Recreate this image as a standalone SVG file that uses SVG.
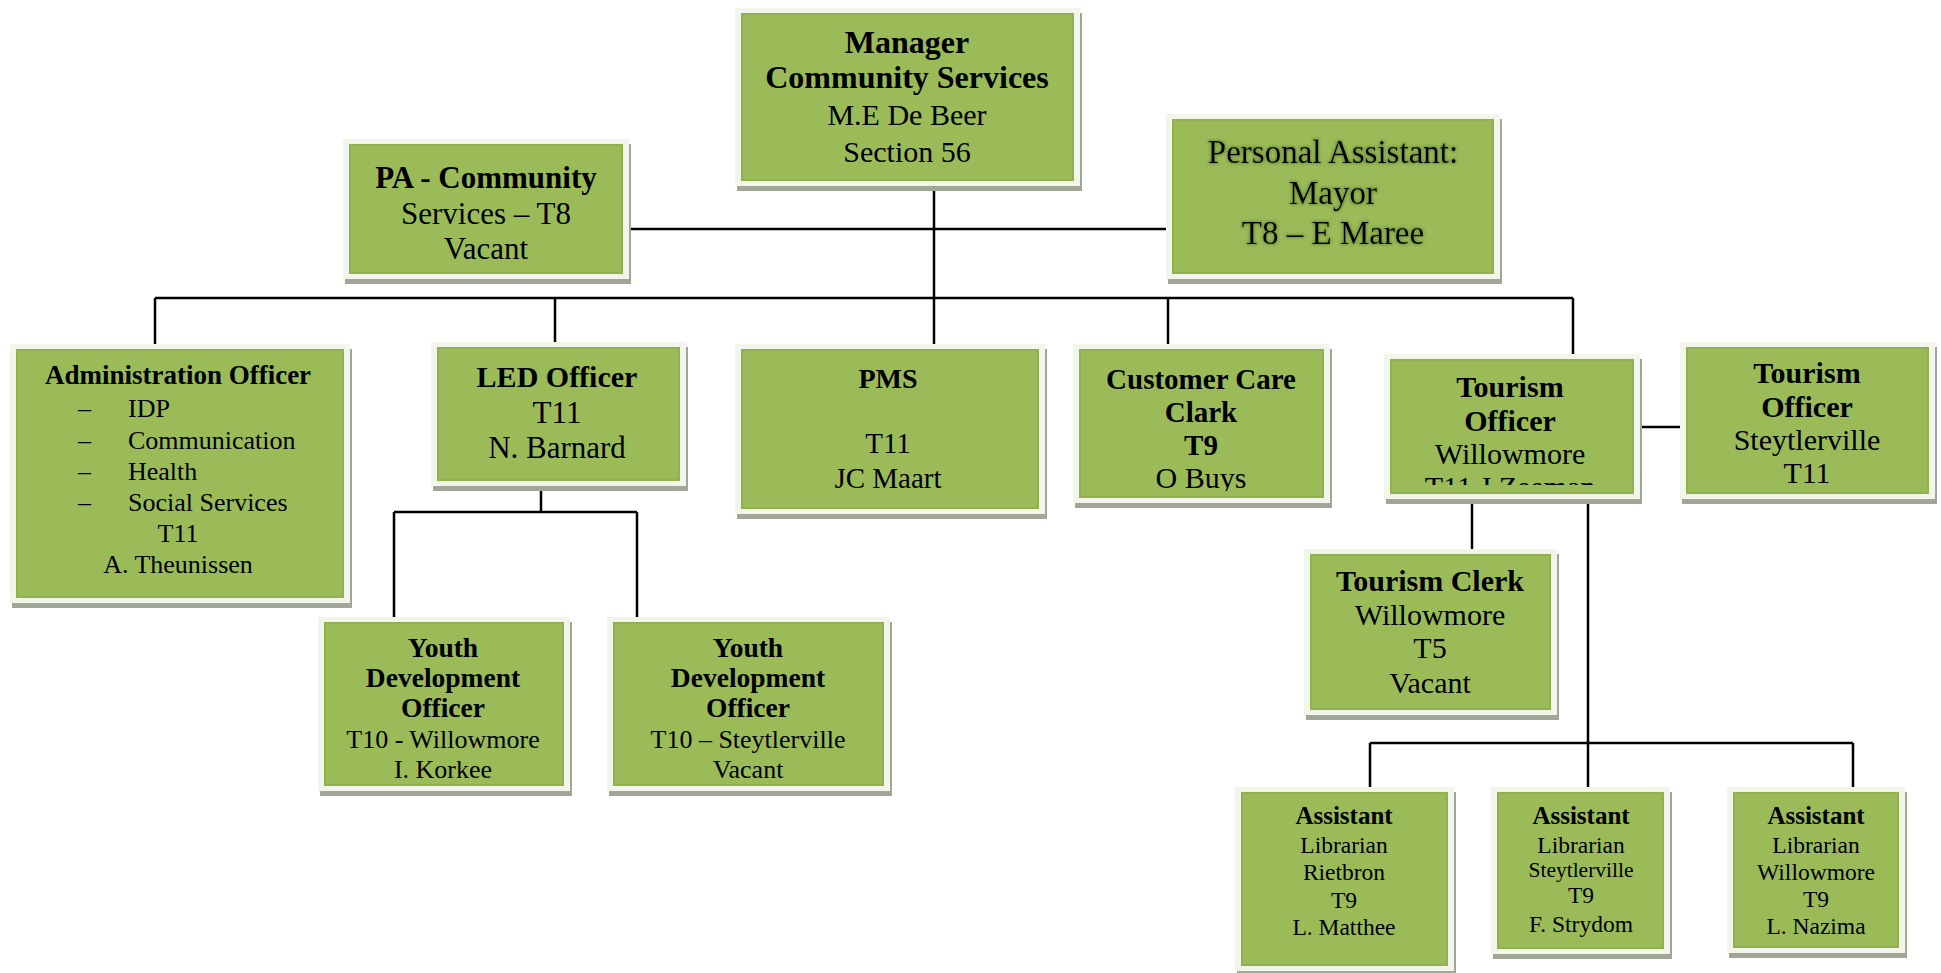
<svg xmlns="http://www.w3.org/2000/svg" width="1941" height="973" viewBox="0 0 1941 973">
<defs>
<style>
.sh{fill:#a2a696}
.fr{fill:#f2f5ea}
.gr{fill:#9bbb59;stroke:#91b04f;stroke-width:2}
text{font-family:"Liberation Serif","DejaVu Serif",serif;fill:#000;text-anchor:middle}
text.s{text-anchor:start}
.b{font-weight:bold}
.ln{stroke:#000;stroke-width:2.5;fill:none}
</style>
<filter id="glow" x="-10%" y="-30%" width="120%" height="160%">
<feMorphology in="SourceAlpha" operator="dilate" radius="1" result="d"/>
<feGaussianBlur in="d" stdDeviation="1.6" result="bl"/>
<feFlood flood-color="#4f6b1e" flood-opacity="0.5"/>
<feComposite in2="bl" operator="in" result="g"/>
<feMerge><feMergeNode in="g"/><feMergeNode in="SourceGraphic"/></feMerge>
</filter>
<clipPath id="clipCC"><rect x="1080" y="350" width="243" height="141"/></clipPath>
<clipPath id="clipTW"><rect x="1391" y="360" width="242" height="125"/></clipPath>
</defs>
<rect width="1941" height="973" fill="#fff"/>

<g id="connectors">
<path class="ln" d="M629 229H1166"/>
<path class="ln" d="M934 186V344"/>
<path class="ln" d="M155 298H1573"/>
<path class="ln" d="M155 298V344M555 298V342M1168 298V344M1573 298V354"/>
<path class="ln" d="M1640 427H1680"/>
<path class="ln" d="M541 486V512M394 512H637M394 512V617M637 512V617"/>
<path class="ln" d="M1472 499V549"/>
<path class="ln" d="M1588 499V743M1370 743H1853M1370 743V787M1588 743V787M1853 743V787"/>
</g>

<g id="manager">
<rect class="sh" x="737" y="13" width="345" height="178"/>
<rect class="fr" x="735" y="8" width="345" height="178"/>
<rect class="gr" x="742" y="14" width="331" height="166"/>
<text class="b" x="907" y="53" font-size="32">Manager</text>
<text class="b" x="907" y="88" font-size="32">Community Services</text>
<text x="907" y="125" font-size="30">M.E De Beer</text>
<text x="907" y="162" font-size="30">Section 56</text>
</g>

<g id="pa-community">
<rect class="sh" x="345" y="144" width="286" height="140"/>
<rect class="fr" x="343" y="139" width="286" height="140"/>
<rect class="gr" x="350" y="145" width="272" height="128"/>
<text class="b" x="486" y="188" font-size="31">PA - Community</text>
<text x="486" y="224" font-size="31">Services – T8</text>
<text x="486" y="259" font-size="31">Vacant</text>
</g>

<g id="pa-mayor">
<rect class="sh" x="1168" y="119" width="334" height="165"/>
<rect class="fr" x="1166" y="114" width="334" height="165"/>
<rect class="gr" x="1173" y="120" width="320" height="153"/>
<g filter="url(#glow)">
<text x="1333" y="163" font-size="33">Personal Assistant:</text>
<text x="1333" y="204" font-size="33">Mayor</text>
<text x="1333" y="244" font-size="33">T8 – E Maree</text>
</g>
</g>

<g id="admin-officer">
<rect class="sh" x="12" y="349" width="340" height="259"/>
<rect class="fr" x="10" y="344" width="340" height="259"/>
<rect class="gr" x="17" y="350" width="326" height="247"/>
<text class="b" x="178" y="384" font-size="27">Administration Officer</text>
<g font-size="26">
<text class="s" x="78" y="417">–</text><text class="s" x="128" y="417">IDP</text>
<text class="s" x="78" y="449">–</text><text class="s" x="128" y="449">Communication</text>
<text class="s" x="78" y="480">–</text><text class="s" x="128" y="480">Health</text>
<text class="s" x="78" y="511">–</text><text class="s" x="128" y="511">Social Services</text>
<text x="178" y="542">T11</text>
<text x="178" y="573">A. Theunissen</text>
</g>
</g>

<g id="led-officer">
<rect class="sh" x="433" y="347" width="255" height="144"/>
<rect class="fr" x="431" y="342" width="255" height="144"/>
<rect class="gr" x="438" y="348" width="241" height="132"/>
<text class="b" x="557" y="387" font-size="30">LED Officer</text>
<text x="557" y="423" font-size="31">T11</text>
<text x="557" y="458" font-size="31">N. Barnard</text>
</g>

<g id="pms">
<rect class="sh" x="737" y="349" width="310" height="170"/>
<rect class="fr" x="735" y="344" width="310" height="170"/>
<rect class="gr" x="742" y="350" width="296" height="158"/>
<text class="b" x="888" y="388" font-size="28">PMS</text>
<text x="888" y="453" font-size="29">T11</text>
<text x="888" y="488" font-size="29">JC Maart</text>
</g>

<g id="customer-care">
<rect class="sh" x="1075" y="349" width="257" height="159"/>
<rect class="fr" x="1073" y="344" width="257" height="159"/>
<rect class="gr" x="1080" y="350" width="243" height="147"/>
<text class="b" x="1201" y="389" font-size="29">Customer Care</text>
<text class="b" x="1201" y="422" font-size="29">Clark</text>
<text class="b" x="1201" y="455" font-size="29">T9</text>
<text x="1201" y="488" font-size="30" clip-path="url(#clipCC)">O Buys</text>
</g>

<g id="tourism-officer-willowmore">
<rect class="sh" x="1386" y="359" width="256" height="145"/>
<rect class="fr" x="1384" y="354" width="256" height="145"/>
<rect class="gr" x="1391" y="360" width="242" height="133"/>
<text class="b" x="1510" y="397" font-size="30">Tourism</text>
<text class="b" x="1510" y="431" font-size="30">Officer</text>
<text x="1510" y="464" font-size="30">Willowmore</text>
<text x="1510" y="497" font-size="30" clip-path="url(#clipTW)">T11 J Zeeman</text>
</g>

<g id="tourism-officer-steytlerville">
<rect class="sh" x="1682" y="347" width="255" height="157"/>
<rect class="fr" x="1680" y="342" width="255" height="157"/>
<rect class="gr" x="1687" y="348" width="241" height="145"/>
<text class="b" x="1807" y="383" font-size="30">Tourism</text>
<text class="b" x="1807" y="417" font-size="30">Officer</text>
<text x="1807" y="450" font-size="30">Steytlerville</text>
<text x="1807" y="483" font-size="30">T11</text>
</g>

<g id="youth-willowmore">
<rect class="sh" x="320" y="622" width="252" height="174"/>
<rect class="fr" x="318" y="617" width="252" height="174"/>
<rect class="gr" x="325" y="623" width="238" height="162"/>
<text class="b" x="443" y="657" font-size="27.5">Youth</text>
<text class="b" x="443" y="687" font-size="27.5">Development</text>
<text class="b" x="443" y="717" font-size="27.5">Officer</text>
<text x="443" y="748" font-size="26">T10 - Willowmore</text>
<text x="443" y="778" font-size="26">I. Korkee</text>
</g>

<g id="youth-steytlerville">
<rect class="sh" x="609" y="622" width="283" height="174"/>
<rect class="fr" x="607" y="617" width="283" height="174"/>
<rect class="gr" x="614" y="623" width="269" height="162"/>
<text class="b" x="748" y="657" font-size="27.5">Youth</text>
<text class="b" x="748" y="687" font-size="27.5">Development</text>
<text class="b" x="748" y="717" font-size="27.5">Officer</text>
<text x="748" y="748" font-size="26">T10 – Steytlerville</text>
<text x="748" y="778" font-size="26">Vacant</text>
</g>

<g id="tourism-clerk">
<rect class="sh" x="1306" y="554" width="253" height="166"/>
<rect class="fr" x="1304" y="549" width="253" height="166"/>
<rect class="gr" x="1311" y="555" width="239" height="154"/>
<text class="b" x="1430" y="591" font-size="30">Tourism Clerk</text>
<text x="1430" y="625" font-size="30">Willowmore</text>
<text x="1430" y="658" font-size="30">T5</text>
<text x="1430" y="693" font-size="30">Vacant</text>
</g>

<g id="librarian-rietbron">
<rect class="sh" x="1237" y="792" width="219" height="184"/>
<rect class="fr" x="1235" y="787" width="219" height="184"/>
<rect class="gr" x="1242" y="793" width="205" height="172"/>
<text class="b" x="1344" y="824" font-size="25">Assistant</text>
<text x="1344" y="853" font-size="23.5">Librarian</text>
<text x="1344" y="880" font-size="23.5">Rietbron</text>
<text x="1344" y="908" font-size="23.5">T9</text>
<text x="1344" y="935" font-size="23.5">L. Matthee</text>
</g>

<g id="librarian-steytlerville">
<rect class="sh" x="1493" y="792" width="179" height="167"/>
<rect class="fr" x="1491" y="787" width="179" height="167"/>
<rect class="gr" x="1498" y="793" width="165" height="155"/>
<text class="b" x="1581" y="824" font-size="25">Assistant</text>
<text x="1581" y="853" font-size="23.5">Librarian</text>
<text x="1581" y="877" font-size="21.5">Steytlerville</text>
<text x="1581" y="903" font-size="23.5">T9</text>
<text x="1581" y="932" font-size="23.5">F. Strydom</text>
</g>

<g id="librarian-willowmore">
<rect class="sh" x="1729" y="792" width="178" height="166"/>
<rect class="fr" x="1727" y="787" width="178" height="166"/>
<rect class="gr" x="1734" y="793" width="164" height="154"/>
<text class="b" x="1816" y="824" font-size="25">Assistant</text>
<text x="1816" y="853" font-size="23.5">Librarian</text>
<text x="1816" y="880" font-size="23.5">Willowmore</text>
<text x="1816" y="907" font-size="23.5">T9</text>
<text x="1816" y="934" font-size="23.5">L. Nazima</text>
</g>
</svg>
